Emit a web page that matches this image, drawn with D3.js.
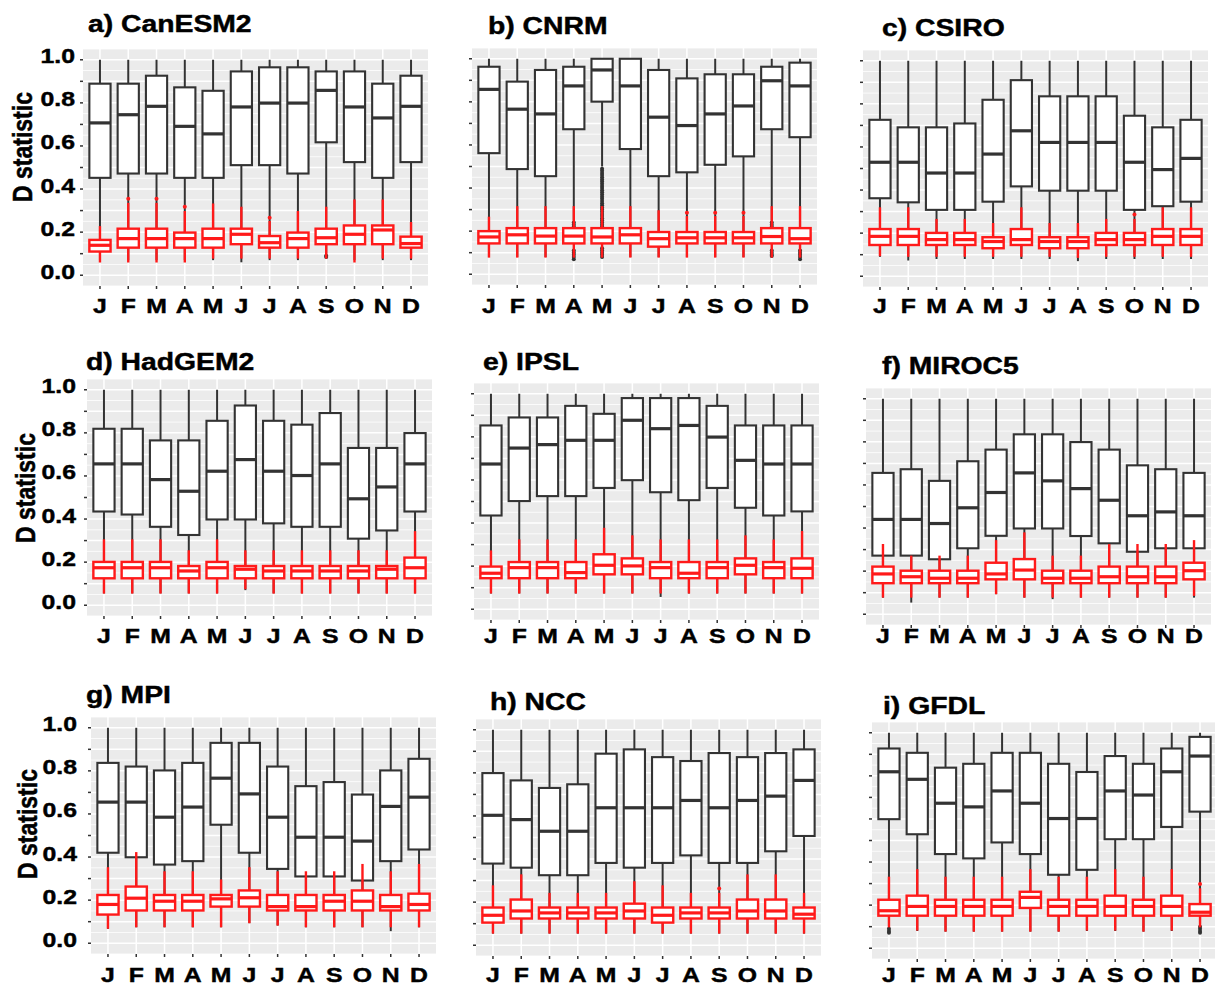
<!DOCTYPE html>
<html>
<head>
<meta charset="utf-8">
<script src="https://cdn.jsdelivr.net/npm/d3@7"></script>
<style>
  body { margin: 0; background: #fff; }
  svg { display: block; }
  text { font-family: "Liberation Sans", Arial, sans-serif; font-weight: bold; fill: #000; stroke: #000; stroke-width: 0.45px; }
</style>
</head>
<body>
<svg id="chart" width="1215" height="990"></svg>
<script>
// months on the x axis (same letter twice for M/J/A, so scales use the index)
const months = ["J", "F", "M", "A", "M", "J", "J", "A", "S", "O", "N", "D"];
const yBreaks = [0, 0.1, 0.2, 0.3, 0.4, 0.5, 0.6, 0.7, 0.8, 0.9, 1.0];
const yMinorBreaks = [-0.05, 0.05, 0.15, 0.25, 0.35, 0.45, 0.55, 0.65, 0.75, 0.85, 0.95, 1.05];
const yLabelBreaks = [0, 0.2, 0.4, 0.6, 0.8, 1.0];

const panelNames = ["a) CanESM2", "b) CNRM", "c) CSIRO", "d) HadGEM2", "e) IPSL",
  "f) MIROC5", "g) MPI", "h) NCC", "i) GFDL"];

// each box: [lower whisker, q1, median, q3, upper whisker]
const canesmBlack = [
  [0.07, 0.452, 0.707, 0.889, 1.0], [0.07, 0.472, 0.745, 0.889, 1.0], [0.07, 0.472, 0.784, 0.926, 1.0],
  [0.07, 0.452, 0.691, 0.872, 1.0], [0.07, 0.452, 0.656, 0.856, 1.0], [0.06, 0.511, 0.781, 0.946, 1.0],
  [0.07, 0.511, 0.799, 0.965, 1.0], [0.07, 0.472, 0.799, 0.965, 1.0], [0.10, 0.617, 0.858, 0.946, 1.0],
  [0.07, 0.525, 0.781, 0.946, 1.0], [0.07, 0.452, 0.730, 0.889, 1.0], [0.07, 0.525, 0.784, 0.926, 1.0]];
const canesmRed = [
  [0.059, 0.110, 0.139, 0.164, 0.228], [0.059, 0.128, 0.170, 0.216, 0.336], [0.059, 0.128, 0.170, 0.216, 0.336],
  [0.059, 0.128, 0.170, 0.198, 0.298], [0.077, 0.128, 0.170, 0.216, 0.333], [0.077, 0.144, 0.190, 0.216, 0.318],
  [0.077, 0.128, 0.151, 0.182, 0.252], [0.077, 0.128, 0.170, 0.198, 0.298], [0.077, 0.144, 0.174, 0.216, 0.318],
  [0.059, 0.144, 0.190, 0.231, 0.352], [0.077, 0.144, 0.210, 0.231, 0.352], [0.077, 0.128, 0.147, 0.179, 0.247]];

const cnrmBlack = [
  [0.08, 0.562, 0.858, 0.963, 1.0], [0.08, 0.488, 0.766, 0.894, 1.0], [0.08, 0.455, 0.744, 0.948, 1.0],
  [0.25, 0.673, 0.874, 0.963, 1.0], [0.50, 0.801, 0.948, 1.0, 1.0], [0.08, 0.581, 0.874, 1.0, 1.0],
  [0.08, 0.455, 0.729, 0.948, 1.0], [0.08, 0.473, 0.690, 0.909, 1.0], [0.08, 0.508, 0.744, 0.928, 1.0],
  [0.08, 0.547, 0.781, 0.928, 1.0], [0.25, 0.673, 0.898, 0.963, 1.0], [0.12, 0.636, 0.874, 0.982, 1.0]];
const cnrmRed = [
  [0.077, 0.143, 0.173, 0.200, 0.267], [0.077, 0.143, 0.183, 0.214, 0.316], [0.077, 0.143, 0.177, 0.214, 0.316],
  [0.077, 0.143, 0.177, 0.214, 0.316], [0.077, 0.143, 0.173, 0.214, 0.316], [0.077, 0.143, 0.183, 0.214, 0.316],
  [0.077, 0.128, 0.165, 0.196, 0.297], [0.077, 0.143, 0.169, 0.196, 0.270], [0.077, 0.143, 0.169, 0.196, 0.270],
  [0.077, 0.143, 0.169, 0.196, 0.270], [0.077, 0.143, 0.175, 0.214, 0.316], [0.077, 0.143, 0.165, 0.214, 0.316]];

const csiroBlack = [
  [0.09, 0.362, 0.529, 0.726, 1.0], [0.073, 0.343, 0.529, 0.691, 1.0], [0.08, 0.308, 0.479, 0.691, 1.0],
  [0.08, 0.308, 0.479, 0.709, 1.0], [0.08, 0.346, 0.567, 0.819, 1.0], [0.08, 0.417, 0.675, 0.910, 1.0],
  [0.08, 0.397, 0.621, 0.835, 1.0], [0.07, 0.397, 0.621, 0.835, 1.0], [0.08, 0.397, 0.621, 0.835, 1.0],
  [0.08, 0.308, 0.529, 0.745, 1.0], [0.08, 0.325, 0.495, 0.691, 1.0], [0.08, 0.346, 0.547, 0.726, 1.0]];
const csiroRed = [
  [0.093, 0.145, 0.185, 0.219, 0.320], [0.09, 0.145, 0.185, 0.219, 0.320], [0.09, 0.145, 0.170, 0.201, 0.266],
  [0.09, 0.145, 0.170, 0.201, 0.266], [0.09, 0.130, 0.161, 0.181, 0.247], [0.09, 0.145, 0.170, 0.219, 0.320],
  [0.09, 0.130, 0.161, 0.181, 0.247], [0.085, 0.130, 0.161, 0.181, 0.247], [0.09, 0.145, 0.170, 0.201, 0.266],
  [0.09, 0.145, 0.170, 0.201, 0.266], [0.09, 0.145, 0.185, 0.219, 0.320], [0.09, 0.145, 0.185, 0.219, 0.320]];

const hadgemBlack = [
  [0.055, 0.435, 0.656, 0.819, 1.0], [0.055, 0.421, 0.656, 0.819, 1.0], [0.055, 0.364, 0.583, 0.765, 1.0],
  [0.055, 0.326, 0.529, 0.765, 1.0], [0.055, 0.398, 0.622, 0.856, 1.0], [0.07, 0.398, 0.676, 0.927, 1.0],
  [0.055, 0.380, 0.622, 0.856, 1.0], [0.055, 0.364, 0.602, 0.838, 1.0], [0.055, 0.364, 0.656, 0.892, 1.0],
  [0.055, 0.309, 0.494, 0.730, 1.0], [0.055, 0.347, 0.549, 0.730, 1.0], [0.055, 0.435, 0.656, 0.799, 1.0]];
const hadgemRed = [
  [0.054, 0.125, 0.174, 0.201, 0.306], [0.054, 0.125, 0.174, 0.201, 0.306], [0.054, 0.125, 0.174, 0.201, 0.306],
  [0.054, 0.125, 0.159, 0.182, 0.255], [0.054, 0.125, 0.174, 0.201, 0.306], [0.074, 0.125, 0.167, 0.182, 0.255],
  [0.054, 0.125, 0.159, 0.182, 0.255], [0.054, 0.125, 0.159, 0.182, 0.255], [0.054, 0.125, 0.159, 0.182, 0.255],
  [0.054, 0.125, 0.159, 0.182, 0.255], [0.054, 0.125, 0.167, 0.182, 0.255], [0.054, 0.125, 0.174, 0.221, 0.344]];

const ipslBlack = [
  [0.073, 0.435, 0.674, 0.853, 1.0], [0.073, 0.502, 0.748, 0.890, 1.0], [0.073, 0.525, 0.764, 0.890, 1.0],
  [0.073, 0.525, 0.784, 0.944, 1.0], [0.073, 0.563, 0.784, 0.907, 1.0], [0.073, 0.599, 0.877, 0.980, 1.0],
  [0.057, 0.543, 0.838, 0.980, 1.0], [0.073, 0.506, 0.853, 0.980, 1.0], [0.073, 0.563, 0.799, 0.944, 1.0],
  [0.073, 0.471, 0.691, 0.853, 1.0], [0.073, 0.435, 0.674, 0.853, 1.0], [0.073, 0.454, 0.674, 0.853, 1.0]];
const ipslRed = [
  [0.073, 0.144, 0.167, 0.198, 0.273], [0.073, 0.144, 0.193, 0.219, 0.324], [0.073, 0.144, 0.193, 0.219, 0.324],
  [0.073, 0.144, 0.170, 0.219, 0.324], [0.073, 0.162, 0.204, 0.255, 0.378], [0.073, 0.162, 0.201, 0.236, 0.343],
  [0.073, 0.144, 0.193, 0.219, 0.324], [0.073, 0.144, 0.167, 0.219, 0.324], [0.073, 0.144, 0.193, 0.219, 0.324],
  [0.073, 0.162, 0.204, 0.236, 0.343], [0.073, 0.144, 0.193, 0.219, 0.324], [0.073, 0.144, 0.190, 0.236, 0.363]];

const mirocBlack = [
  [0.077, 0.272, 0.440, 0.656, 1.0], [0.054, 0.272, 0.440, 0.673, 1.0], [0.077, 0.255, 0.421, 0.619, 1.0],
  [0.077, 0.306, 0.494, 0.710, 1.0], [0.093, 0.364, 0.565, 0.764, 1.0], [0.077, 0.398, 0.656, 0.835, 1.0],
  [0.07, 0.398, 0.619, 0.835, 1.0], [0.077, 0.363, 0.583, 0.799, 1.0], [0.077, 0.329, 0.529, 0.764, 1.0],
  [0.077, 0.290, 0.457, 0.691, 1.0], [0.077, 0.306, 0.475, 0.673, 1.0], [0.077, 0.306, 0.457, 0.656, 1.0]];
const mirocRed = [
  [0.077, 0.144, 0.187, 0.221, 0.326], [0.077, 0.144, 0.174, 0.202, 0.272], [0.077, 0.144, 0.167, 0.202, 0.272],
  [0.077, 0.144, 0.167, 0.202, 0.272], [0.093, 0.162, 0.187, 0.239, 0.344], [0.077, 0.162, 0.205, 0.256, 0.380],
  [0.077, 0.144, 0.167, 0.202, 0.272], [0.077, 0.144, 0.167, 0.202, 0.272], [0.077, 0.144, 0.174, 0.221, 0.326],
  [0.077, 0.144, 0.174, 0.221, 0.326], [0.077, 0.144, 0.174, 0.221, 0.326], [0.085, 0.162, 0.202, 0.239, 0.344]];

const mpiBlack = [
  [0.067, 0.420, 0.655, 0.837, 1.0], [0.074, 0.399, 0.655, 0.820, 1.0], [0.074, 0.365, 0.585, 0.802, 1.0],
  [0.074, 0.381, 0.632, 0.837, 1.0], [0.074, 0.550, 0.766, 0.930, 1.0], [0.093, 0.420, 0.693, 0.930, 1.0],
  [0.082, 0.345, 0.585, 0.820, 1.0], [0.074, 0.310, 0.492, 0.729, 1.0], [0.074, 0.310, 0.492, 0.748, 1.0],
  [0.074, 0.291, 0.474, 0.690, 1.0], [0.056, 0.381, 0.635, 0.802, 1.0], [0.074, 0.435, 0.678, 0.856, 1.0]];
const mpiRed = [
  [0.067, 0.133, 0.180, 0.224, 0.353], [0.074, 0.152, 0.209, 0.263, 0.423], [0.074, 0.152, 0.195, 0.224, 0.334],
  [0.074, 0.152, 0.195, 0.224, 0.334], [0.074, 0.170, 0.206, 0.224, 0.296], [0.093, 0.170, 0.211, 0.245, 0.353],
  [0.082, 0.152, 0.170, 0.224, 0.334], [0.074, 0.152, 0.170, 0.224, 0.334], [0.074, 0.152, 0.195, 0.224, 0.334],
  [0.074, 0.152, 0.195, 0.245, 0.368], [0.074, 0.152, 0.170, 0.224, 0.334], [0.074, 0.152, 0.180, 0.230, 0.368]];

const nccBlack = [
  [0.054, 0.379, 0.603, 0.799, 1.0], [0.054, 0.360, 0.583, 0.765, 1.0], [0.054, 0.325, 0.529, 0.730, 1.0],
  [0.054, 0.325, 0.529, 0.747, 1.0], [0.054, 0.382, 0.638, 0.889, 1.0], [0.054, 0.360, 0.638, 0.909, 1.0],
  [0.054, 0.382, 0.638, 0.873, 1.0], [0.054, 0.417, 0.672, 0.855, 1.0], [0.054, 0.382, 0.638, 0.892, 1.0],
  [0.054, 0.382, 0.672, 0.873, 1.0], [0.054, 0.436, 0.692, 0.892, 1.0], [0.054, 0.507, 0.765, 0.909, 1.0]];
const nccRed = [
  [0.054, 0.105, 0.139, 0.175, 0.278], [0.054, 0.124, 0.159, 0.212, 0.329], [0.054, 0.124, 0.150, 0.175, 0.243],
  [0.054, 0.124, 0.150, 0.175, 0.243], [0.054, 0.124, 0.150, 0.175, 0.243], [0.054, 0.124, 0.159, 0.193, 0.297],
  [0.054, 0.105, 0.139, 0.175, 0.278], [0.054, 0.124, 0.150, 0.175, 0.243], [0.054, 0.124, 0.150, 0.175, 0.243],
  [0.054, 0.124, 0.159, 0.212, 0.329], [0.054, 0.124, 0.159, 0.212, 0.329], [0.054, 0.124, 0.144, 0.175, 0.243]];

const gfdlBlack = [
  [0.10, 0.599, 0.819, 0.927, 1.0], [0.08, 0.529, 0.784, 0.907, 1.0], [0.077, 0.437, 0.673, 0.838, 1.0],
  [0.077, 0.417, 0.656, 0.856, 1.0], [0.077, 0.491, 0.730, 0.907, 1.0], [0.077, 0.437, 0.673, 0.907, 1.0],
  [0.077, 0.341, 0.602, 0.856, 1.0], [0.08, 0.364, 0.602, 0.818, 1.0], [0.08, 0.506, 0.730, 0.892, 1.0],
  [0.077, 0.506, 0.711, 0.856, 1.0], [0.08, 0.563, 0.819, 0.927, 1.0], [0.11, 0.634, 0.892, 0.981, 1.0]];
const gfdlRed = [
  [0.097, 0.151, 0.174, 0.225, 0.332], [0.082, 0.151, 0.194, 0.244, 0.367], [0.077, 0.151, 0.194, 0.225, 0.332],
  [0.077, 0.151, 0.194, 0.225, 0.332], [0.077, 0.151, 0.194, 0.225, 0.332], [0.077, 0.187, 0.236, 0.262, 0.367],
  [0.077, 0.151, 0.194, 0.225, 0.332], [0.082, 0.151, 0.194, 0.225, 0.332], [0.082, 0.151, 0.194, 0.244, 0.367],
  [0.077, 0.151, 0.194, 0.225, 0.332], [0.082, 0.151, 0.194, 0.244, 0.367], [0.097, 0.151, 0.167, 0.205, 0.278]];

// outliers: [month index, value]
const canesmBlackOut = [[8, 0.09], [8, 0.085]];
const canesmRedOut = [[1, 0.355], [2, 0.355], [3, 0.318], [6, 0.267]];
const cnrmBlackOut = [
  [3, 0.24], [3, 0.23], [3, 0.22], [3, 0.21], [3, 0.20], [3, 0.11], [3, 0.10], [3, 0.09], [3, 0.08], [3, 0.07],
  [4, 0.49], [4, 0.48], [4, 0.47], [4, 0.46], [4, 0.45], [4, 0.44], [4, 0.43], [4, 0.42], [4, 0.41], [4, 0.40],
  [4, 0.39], [4, 0.38], [4, 0.37], [4, 0.36], [4, 0.35], [4, 0.34], [4, 0.33], [4, 0.32], [4, 0.31], [4, 0.30],
  [4, 0.29], [4, 0.28], [4, 0.27], [4, 0.26], [4, 0.25], [4, 0.24], [4, 0.23], [4, 0.22], [4, 0.12], [4, 0.11],
  [4, 0.10], [4, 0.09], [4, 0.08],
  [10, 0.24], [10, 0.23], [10, 0.22], [10, 0.21], [10, 0.11], [10, 0.10], [10, 0.09], [10, 0.085],
  [11, 0.11], [11, 0.10], [11, 0.09], [11, 0.08], [11, 0.07]];
const cnrmRedOut = [[7, 0.285], [8, 0.285], [9, 0.285]];
const csiroBlackOut = [];
const csiroRedOut = [[9, 0.286]];
const hadgemBlackOut = [];
const hadgemRedOut = [];
const ipslBlackOut = [];
const ipslRedOut = [];
const mirocBlackOut = [];
const mirocRedOut = [];
const mpiBlackOut = [];
const mpiRedOut = [];
const nccBlackOut = [];
const nccRedOut = [[8, 0.263]];
const gfdlBlackOut = [[0, 0.09], [0, 0.08], [0, 0.072], [11, 0.10], [11, 0.09], [11, 0.08], [11, 0.072]];
const gfdlRedOut = [[11, 0.298]];

const blackSeries = [canesmBlack, cnrmBlack, csiroBlack, hadgemBlack, ipslBlack, mirocBlack, mpiBlack, nccBlack, gfdlBlack];
const redSeries = [canesmRed, cnrmRed, csiroRed, hadgemRed, ipslRed, mirocRed, mpiRed, nccRed, gfdlRed];
const blackOutliers = [canesmBlackOut, cnrmBlackOut, csiroBlackOut, hadgemBlackOut, ipslBlackOut, mirocBlackOut, mpiBlackOut, nccBlackOut, gfdlBlackOut];
const redOutliers = [canesmRedOut, cnrmRedOut, csiroRedOut, hadgemRedOut, ipslRedOut, mirocRedOut, mpiRedOut, nccRedOut, gfdlRedOut];

// layout (pixels) - panel top-left corner and title anchor
const panelLayout = [
  { left: 83, top: 49, titleX: 88, titleY: 32 },
  { left: 472, top: 48, titleX: 488, titleY: 34 },
  { left: 863, top: 50, titleX: 882, titleY: 36 },
  { left: 87, top: 379, titleX: 86, titleY: 370 },
  { left: 474, top: 383, titleX: 483, titleY: 370 },
  { left: 866, top: 388, titleX: 882, titleY: 374 },
  { left: 91, top: 717, titleX: 86, titleY: 703 },
  { left: 476, top: 719, titleX: 490, titleY: 710 },
  { left: 872, top: 722, titleX: 883, titleY: 714 }
];
const rowLayout = [
  { xLabelY: 313, yLabelRight: 75, yTitleX: 22, yTitleY: 147 },
  { xLabelY: 643, yLabelRight: 76, yTitleX: 25, yTitleY: 488 },
  { xLabelY: 982, yLabelRight: 77, yTitleX: 27, yTitleY: 824 }
];
const panelW = 345;
const panelH = 237;
const stretch = 1.18;   // the source figure is squashed wider than it is tall

const svg = d3.select("#chart");

// text helper, stretched horizontally like the source
const addText = (g, x, y, str, size, anchor) => {
  return g.append("text")
    .attr("transform", `translate(${x},${y}) scale(${stretch},1)`)
    .attr("text-anchor", anchor || "start")
    .style("font-size", size + "px")
    .text(str);
};

const drawBoxes = (g, x, y, stats, outliers, color, bw) => {
  const s = g.append("g");
  const isRed = color !== "#333333";

  // whiskers
  s.selectAll("line.whisker")
    .data(stats)
    .join("line")
    .attr("class", "whisker")
    .attr("x1", (d, i) => x(i)).attr("x2", (d, i) => x(i))
    .attr("y1", d => y(d[0])).attr("y2", d => y(d[4]))
    .attr("stroke", color)
    .attr("stroke-width", isRed ? 2.4 : 2);

  s.selectAll("circle.outlier")
    .data(outliers)
    .join("circle")
    .attr("class", "outlier")
    .attr("cx", d => x(d[0]))
    .attr("cy", d => y(d[1]))
    .attr("r", 2)
    .attr("fill", color);

  s.selectAll("rect.box")
    .data(stats)
    .join("rect")
    .attr("class", "box")
    .attr("x", (d, i) => x(i) - bw / 2)
    .attr("width", bw)
    .attr("y", d => y(d[3]))
    .attr("height", d => y(d[1]) - y(d[3]))
    .attr("fill", "#fff")
    .attr("stroke", color)
    .attr("stroke-width", isRed ? 2.4 : 2.1);

  s.selectAll("line.median")
    .data(stats)
    .join("line")
    .attr("class", "median")
    .attr("x1", (d, i) => x(i) - bw / 2).attr("x2", (d, i) => x(i) + bw / 2)
    .attr("y1", d => y(d[2])).attr("y2", d => y(d[2]))
    .attr("stroke", color)
    .attr("stroke-width", 3.2);
};

panelNames.forEach((name, p) => {
  const lay = panelLayout[p];
  const row = rowLayout[Math.floor(p / 3)];
  const isLeft = p % 3 === 0;

  const x = d3.scalePoint()
    .domain(d3.range(months.length))
    .range([lay.left, lay.left + panelW])
    .padding(0.6);
  const y = d3.scaleLinear()
    .domain([-0.05, 1.05])
    .range([lay.top + panelH, lay.top]);
  const bw = x.step() * 0.75;

  const g = svg.append("g").attr("class", "panel");

  // background + grid
  g.append("rect")
    .attr("x", lay.left).attr("y", lay.top)
    .attr("width", panelW).attr("height", panelH)
    .attr("fill", "#ebebeb");

  g.selectAll("line.minor")
    .data(yMinorBreaks)
    .join("line")
    .attr("class", "minor")
    .attr("x1", lay.left).attr("x2", lay.left + panelW)
    .attr("y1", d => y(d)).attr("y2", d => y(d))
    .attr("stroke", "#fff").attr("stroke-width", 0.8);

  g.selectAll("line.major")
    .data(yBreaks)
    .join("line")
    .attr("class", "major")
    .attr("x1", lay.left).attr("x2", lay.left + panelW)
    .attr("y1", d => y(d)).attr("y2", d => y(d))
    .attr("stroke", "#fff").attr("stroke-width", 1.5);

  g.selectAll("line.vgrid")
    .data(d3.range(months.length))
    .join("line")
    .attr("class", "vgrid")
    .attr("x1", d => x(d)).attr("x2", d => x(d))
    .attr("y1", lay.top).attr("y2", lay.top + panelH)
    .attr("stroke", "#fff").attr("stroke-width", 1.5);

  // ticks
  g.selectAll("line.ytick")
    .data(yBreaks)
    .join("line")
    .attr("class", "ytick")
    .attr("x1", lay.left - 3).attr("x2", lay.left)
    .attr("y1", d => y(d)).attr("y2", d => y(d))
    .attr("stroke", "#333").attr("stroke-width", 1.5);

  g.selectAll("line.xtick")
    .data(d3.range(months.length))
    .join("line")
    .attr("class", "xtick")
    .attr("x1", d => x(d)).attr("x2", d => x(d))
    .attr("y1", lay.top + panelH).attr("y2", lay.top + panelH + 3)
    .attr("stroke", "#333").attr("stroke-width", 1.5);

  // boxes: black first, red drawn over it
  drawBoxes(g, x, y, blackSeries[p], blackOutliers[p], "#333333", bw);
  drawBoxes(g, x, y, redSeries[p], redOutliers[p], "#ff1a1a", bw);

  // month labels
  months.forEach((m, i) => {
    addText(g, x(i), row.xLabelY, m, 21, "middle");
  });

  // y axis labels only on the left column
  if (isLeft) {
    yLabelBreaks.forEach(v => {
      addText(g, row.yLabelRight, y(v) + 3.5, d3.format(".1f")(v), 21, "end");
    });
    g.append("text")
      .attr("transform", `translate(${row.yTitleX},${row.yTitleY}) scale(${stretch},1) rotate(-90)`)
      .attr("text-anchor", "middle")
      .attr("dy", "0.36em")
      .style("font-size", "23px")
      .text("D statistic");
  }

  addText(g, lay.titleX, lay.titleY, name, 24, "start");
});
</script>
</body>
</html>
